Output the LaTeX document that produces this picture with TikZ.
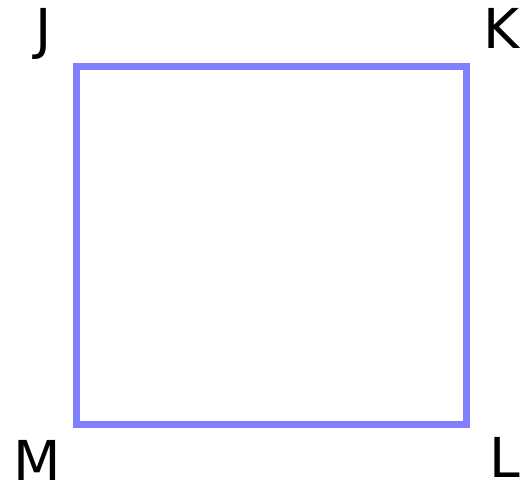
\documentclass[tikz,border=0pt]{standalone}
\usepackage{fontspec}
\setmainfont{DejaVu Sans}
\definecolor{sqblue}{RGB}{128,128,255}
\tikzset{
  lbl/.style={inner sep=0pt, font=\fontsize{55}{60}\selectfont, anchor=base},
  sq/.style={draw=sqblue, line width=7pt}
}
\begin{document}
\begin{tikzpicture}[x=1pt,y=-1pt]
\useasboundingbox (0,0) rectangle (520,485);
\coordinate (j) at (76.5,66.5);
\coordinate (k) at (466.5,66.5);
\coordinate (l) at (466.5,424.5);
\coordinate (m) at (76.5,424.5);
\draw[sq] (j) -- (k) -- (l) -- (m) -- cycle;
\node[lbl] (J) at (44,48) {J};
\node[lbl] (K) at (502,48) {K};
\node[lbl] (L) at (505,477) {L};
\node[lbl] (M) at (37.5,480) {M};
\end{tikzpicture}
\end{document}
